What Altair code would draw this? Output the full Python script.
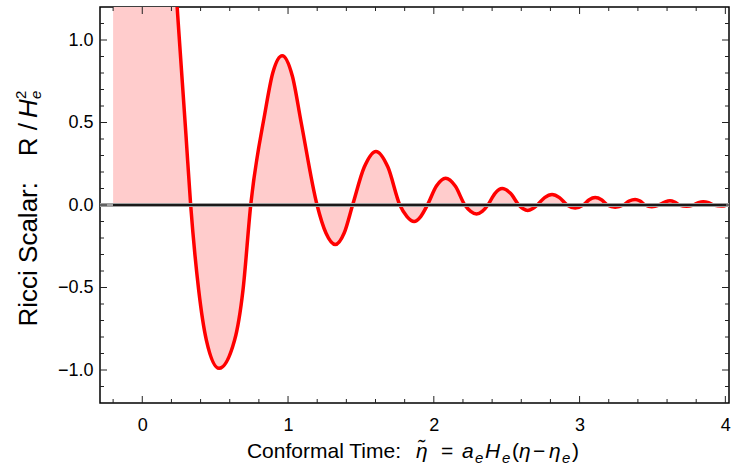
import altair as alt
import pandas as pd

# ---- data ----
eta = [-0.2, -0.1, 0.0, 0.1, 0.2, 0.25, 0.3, 0.332,
       0.387, 0.44, 0.527, 0.633, 0.691, 0.744,
       0.84, 0.895, 0.96, 1.03, 1.09, 1.199,
       1.26, 1.324, 1.385, 1.443,
       1.523, 1.603, 1.685, 1.767,
       1.816, 1.865, 1.91, 1.956,
       2.018, 2.081, 2.147, 2.213,
       2.253, 2.293, 2.332, 2.371,
       2.42, 2.469, 2.526, 2.583,
       2.613, 2.644, 2.676, 2.709,
       2.76, 2.811, 2.862, 2.914,
       2.97, 3.025,
       3.066, 3.107, 3.15, 3.19,
       3.244, 3.30,
       3.34, 3.381, 3.415, 3.45,
       3.495, 3.545,
       3.585, 3.62, 3.652, 3.685,
       3.735, 3.78,
       3.815, 3.848, 3.885, 3.92,
       3.974, 4.0]
ricci = [14.0, 9.0, 5.5, 3.2, 1.72, 1.06, 0.42, 0.0,
         -0.515, -0.82, -0.99, -0.82, -0.515, 0.0,
         0.55, 0.80, 0.905, 0.78, 0.50, 0.0,
         -0.17, -0.24, -0.17, 0.0,
         0.23, 0.325, 0.23, 0.0,
         -0.07, -0.10, -0.07, 0.0,
         0.115, 0.162, 0.115, 0.0,
         -0.039, -0.055, -0.039, 0.0,
         0.071, 0.10, 0.071, 0.0,
         -0.023, -0.033, -0.023, 0.0,
         0.045, 0.064, 0.045, 0.0,
         -0.018, 0.0,
         0.032, 0.045, 0.032, 0.0,
         -0.013, 0.0,
         0.024, 0.034, 0.024, 0.0,
         -0.010, 0.0,
         0.018, 0.026, 0.018, 0.0,
         -0.008, 0.0,
         0.014, 0.020, 0.014, 0.0,
         -0.006, -0.004]

x_major = [0, 1, 2, 3, 4]
x_minor = [-0.2, 0.2, 0.4, 0.6, 0.8, 1.2, 1.4, 1.6, 1.8, 2.2, 2.4, 2.6, 2.8,
           3.2, 3.4, 3.6, 3.8]
y_major = [-1.0, -0.5, 0.0, 0.5, 1.0]
y_minor = [-1.1, -0.9, -0.8, -0.7, -0.6, -0.4, -0.3, -0.2, -0.1,
           0.1, 0.2, 0.3, 0.4, 0.6, 0.7, 0.8, 0.9, 1.1]

X_DOMAIN = [-0.29, 4.025]
Y_DOMAIN = [-1.2, 1.2]

# ---- layout ----
W, H = 629, 396
FONT = "Liberation Sans, Arial, Helvetica, sans-serif"
MAJ, MIN = 7, 4

df = pd.DataFrame({"eta": eta, "R": ricci})
xs = alt.Scale(domain=X_DOMAIN, nice=False, zero=False)
ys = alt.Scale(domain=Y_DOMAIN, nice=False, zero=False)
XAX = alt.Axis(values=x_major, format="d", labelPadding=13, labelFontSize=18,
               labelFont=FONT, labelColor="black")
YAX = alt.Axis(values=y_major, format=".1f", labelPadding=7, labelFontSize=18,
               labelFont=FONT, labelColor="black")


def X(field):
    return alt.X(field, type="quantitative", scale=xs, axis=XAX, title=None)


def Y(field):
    return alt.Y(field, type="quantitative", scale=ys, axis=YAX, title=None)


area = alt.Chart(df).mark_area(color="#ffcccc", interpolate="monotone", clip=True).encode(
    x=X("eta"), y=Y("R"), y2=alt.datum(0))
line = alt.Chart(df).mark_line(color="#ff0000", strokeWidth=3.5, interpolate="monotone",
                               clip=True).encode(x=X("eta"), y=Y("R"))
zero_gray = alt.Chart(df).mark_rule(color="#a0a0a0", strokeWidth=4).encode(
    y=alt.datum(0))
zero_black = alt.Chart(df).mark_rule(color="#1a1a1a", strokeWidth=2).encode(
    x=alt.datum(eta[0]), x2=alt.datum(eta[-1]), y=alt.datum(0))


def xticks(vals, length):
    d = alt.Chart(pd.DataFrame({"v": vals}))
    bottom = d.mark_rule(color="#222", strokeWidth=1).encode(
        x=X("v"), y=alt.value(H), y2=alt.value(H - length))
    top = d.mark_rule(color="#222", strokeWidth=1).encode(
        x=X("v"), y=alt.value(0), y2=alt.value(length))
    return [bottom, top]


def yticks(vals, length):
    d = alt.Chart(pd.DataFrame({"v": vals}))
    left = d.mark_rule(color="#222", strokeWidth=1).encode(
        y=Y("v"), x=alt.value(0), x2=alt.value(length))
    right = d.mark_rule(color="#222", strokeWidth=1).encode(
        y=Y("v"), x=alt.value(W), x2=alt.value(W - length))
    return [left, right]


one = alt.Chart(pd.DataFrame({"a": [0]}))


def txt(s, x, y, size, align="left", italic=False, angle=0):
    kw = dict(text=s, align=align, baseline="alphabetic", font=FONT, fontSize=size,
              color="black")
    if italic:
        kw["fontStyle"] = "italic"
    if angle:
        kw["angle"] = angle
    return one.mark_text(**kw).encode(x=alt.value(x), y=alt.value(y))


TS = 21  # x title size
SS = 15  # sub/superscript size
xt_base = 451
xtitle = [
    txt("Conformal Time:", 301, xt_base, TS, align="right"),
    txt("\u03b7\u0303", 316, xt_base, TS, italic=True),
    txt("=", 341, xt_base, TS),
    txt("a", 362, xt_base, TS, italic=True),
    txt("e", 375, xt_base + 5, SS, italic=True),
    txt("H", 385, xt_base, TS, italic=True),
    txt("e", 402, xt_base + 5, SS, italic=True),
    txt("(", 412, xt_base, TS),
    txt("\u03b7", 419, xt_base, TS, italic=True),
    txt("\u2212", 433, xt_base, TS),
    txt("\u03b7", 449, xt_base, TS, italic=True),
    txt("e", 462, xt_base + 5, SS, italic=True),
    txt(")", 472, xt_base, TS),
]

YS = 26
yx = -63
ytitle = [
    txt("Ricci Scalar:", yx, 175, YS, align="right", angle=270),
    txt("R /", yx, 116, YS, align="right", angle=270),
    txt("H", yx, 111, YS, italic=True, angle=270),
    txt("e", yx + 4, 92, SS, italic=True, angle=270),
    txt("2", yx - 11, 92, SS, angle=270),
]

layers = [area, line, zero_gray, zero_black]
layers += xticks(x_major, MAJ) + xticks(x_minor, MIN)
layers += yticks(y_major, MAJ) + yticks(y_minor, MIN)
layers += xtitle + ytitle

chart = alt.layer(*layers).properties(
    width=W, height=H,
    padding={"left": 100, "top": 7, "right": 2, "bottom": 63},
    autosize=alt.AutoSizeParams(type="none"),
).configure_view(stroke="black", strokeWidth=1.5).configure_axis(
    grid=False, domain=False, ticks=False)

chart.save("out.html", embed_options={"renderer": "svg", "actions": False})
